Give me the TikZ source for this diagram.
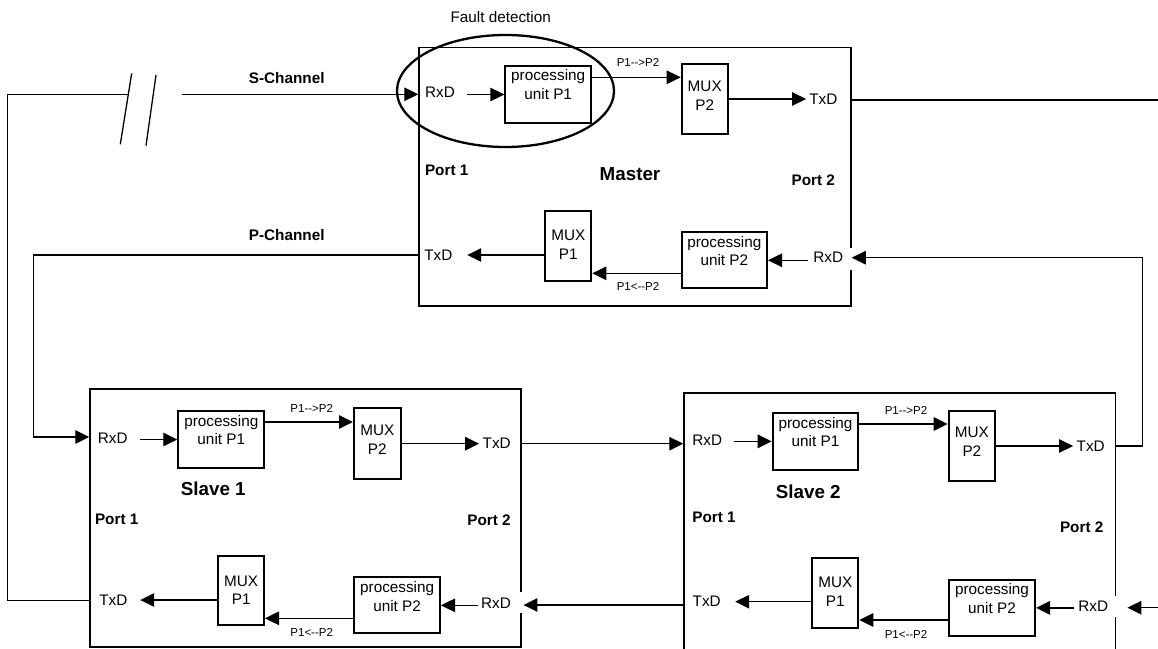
\documentclass[tikz,border=0pt]{standalone}
\usepackage{fontspec}
\setmainfont{Liberation Sans}
\usetikzlibrary{arrows.meta}
\newcommand{\hy}{-\kern0pt}
\tikzset{
  conn/.style={line width=1.3pt},
  arr/.style={conn,-{Triangle[length=14pt,width=13.5pt]}},
  ubox/.style={draw,line width=1.5pt,inner sep=0pt},
  pbox/.style={draw,line width=2pt,inner sep=0pt},
  txt/.style={inner sep=0pt,font=\fontsize{15.3}{18.5}\selectfont,align=center},
  small/.style={inner sep=0pt,font=\fontsize{11.5}{13}\selectfont},
  port/.style={inner sep=0pt,font=\fontsize{15.3}{18}\selectfont\bfseries},
  big/.style={inner sep=0pt,font=\fontsize{18.8}{22}\selectfont\bfseries},
  gap/.style={fill=white,draw=none}
}
\begin{document}
\begin{tikzpicture}[x=1pt,y=-1pt]
\useasboundingbox (0,0) rectangle (1158,648);
\clip (0,0) rectangle (1158,648);

% ---------------- unit boxes ----------------
\node[ubox,minimum width=432pt,minimum height=258.3pt] (M) at (635,176.85) {};
\node[ubox,minimum width=431pt,minimum height=258pt] (S1) at (305.5,518) {};
\node[ubox,minimum width=431.7pt,minimum height=267pt] (S2) at (899.85,526.5) {};

% gaps in the box edges behind the incoming RxD arrows
\fill[gap] (846,248.3) rectangle (856,270);
\fill[gap] (516,591.7) rectangle (526,613.3);
\fill[gap] (1110,596) rectangle (1121,616.7);

% ---------------- Master ----------------
\node[txt] (m_rx1) at (440,92.7) {RxD};
\node[pbox,minimum width=85.7pt,minimum height=57.6pt] (m_pu1) at (548.2,94.5) {};
\node[txt] (m_pu1t) at (548.2,84.3) {processing\\unit P1};
\node[small] (m_l1) at (638,62.7) {P1\hy\hy>P2};
\node[pbox,minimum width=46pt,minimum height=70.3pt] (m_mux2) at (704.7,98.85) {};
\node[txt] (m_mux2t) at (704.7,95.5) {MUX\\P2};
\node[txt] (m_tx1) at (823.3,99) {TxD};
\node[port] (m_p1) at (446.7,170) {Port 1};
\node[big] (m_name) at (630,174) {Master};
\node[port] (m_p2) at (813.3,180) {Port 2};
\node[pbox,minimum width=46pt,minimum height=70pt] (m_mux1) at (568.3,245.7) {};
\node[txt] (m_mux1t) at (568.3,244.8) {MUX\\P1};
\node[txt] (m_tx2) at (438.3,255) {TxD};
\node[pbox,minimum width=85.3pt,minimum height=56pt] (m_pu2) at (724.35,260.3) {};
\node[txt] (m_pu2t) at (724.35,251.2) {processing\\unit P2};
\node[small] (m_l2) at (638,286.7) {P1<\hy\hy P2};
\node[txt] (m_rx2) at (828.3,257.3) {RxD};

\draw[arr] ([xshift=12pt]m_rx1.east |- m_pu1.west) -- (m_pu1.west);
\draw[arr] ([yshift=17.2pt]m_pu1.east) -- ([yshift=17.2pt]m_pu1.east -| m_mux2.west);
\draw[arr] (m_mux2.east |- m_tx1) -- ([xshift=-3pt]m_tx1.west);
\draw[arr] (m_tx2 -| m_mux1.west) -- ([xshift=14.7pt]m_tx2.east);
\draw[arr] ([yshift=-13pt]m_pu2.west) -- ([yshift=-13pt]m_pu2.west -| m_mux1.east);
\draw[arr] ([xshift=-5.7pt]m_rx2.west |- m_pu2.east) -- (m_pu2.east);

% ---------------- Slave 1 ----------------
\node[txt] (s1_rx1) at (112.7,438.3) {RxD};
\node[pbox,minimum width=86pt,minimum height=57.6pt] (s1_pu1) at (221.3,439.5) {};
\node[txt] (s1_pu1t) at (221.3,429.8) {processing\\unit P1};
\node[small] (s1_l1) at (311.7,408) {P1\hy\hy>P2};
\node[pbox,minimum width=46.7pt,minimum height=70.4pt] (s1_mux2) at (377.35,443.5) {};
\node[txt] (s1_mux2t) at (377.35,439.8) {MUX\\P2};
\node[txt] (s1_tx1) at (496.7,443.7) {TxD};
\node[big] (s1_name) at (213.3,489) {Slave 1};
\node[port] (s1_p1) at (116.7,519) {Port 1};
\node[port] (s1_p2) at (489,520) {Port 2};
\node[pbox,minimum width=45.7pt,minimum height=69.3pt] (s1_mux1) at (241.15,590.35) {};
\node[txt] (s1_mux1t) at (241.15,590) {MUX\\P1};
\node[txt] (s1_tx2) at (113.3,600) {TxD};
\node[pbox,minimum width=85.7pt,minimum height=56pt] (s1_pu2) at (397.15,605.3) {};
\node[txt] (s1_pu2t) at (397.15,596.5) {processing\\unit P2};
\node[small] (s1_l2) at (311.7,632) {P1<\hy\hy P2};
\node[txt] (s1_rx2) at (496,603.3) {RxD};

\draw[arr] ([xshift=12.4pt]s1_rx1.east |- s1_pu1.west) -- (s1_pu1.west);
\draw[arr] ([yshift=17.5pt]s1_pu1.east) -- ([yshift=17.5pt]s1_pu1.east -| s1_mux2.west);
\draw[arr] (s1_mux2.east |- s1_tx1) -- ([xshift=-3.4pt]s1_tx1.west);
\draw[arr] (s1_tx2 -| s1_mux1.west) -- ([xshift=12.7pt]s1_tx2.east);
\draw[arr] ([yshift=-13pt]s1_pu2.west) -- ([yshift=-13pt]s1_pu2.west -| s1_mux1.east);
\draw[arr] ([xshift=-2.8pt]s1_rx2.west |- s1_pu2.east) -- (s1_pu2.east);

% ---------------- Slave 2 ----------------
\node[txt] (s2_rx1) at (707.3,440) {RxD};
\node[pbox,minimum width=85.6pt,minimum height=57.3pt] (s2_pu1) at (815.5,441.35) {};
\node[txt] (s2_pu1t) at (815.5,431.8) {processing\\unit P1};
\node[small] (s2_l1) at (906,410) {P1\hy\hy>P2};
\node[pbox,minimum width=46.3pt,minimum height=70pt] (s2_mux2) at (971.85,445.7) {};
\node[txt] (s2_mux2t) at (971.85,441.8) {MUX\\P2};
\node[txt] (s2_tx1) at (1090.7,446) {TxD};
\node[big] (s2_name) at (808.3,491.7) {Slave 2};
\node[port] (s2_p1) at (714,517.7) {Port 1};
\node[port] (s2_p2) at (1081.7,527.7) {Port 2};
\node[pbox,minimum width=46pt,minimum height=70pt] (s2_mux1) at (835.3,592.7) {};
\node[txt] (s2_mux1t) at (835.3,591.7) {MUX\\P1};
\node[txt] (s2_tx2) at (706.7,601.7) {TxD};
\node[pbox,minimum width=86pt,minimum height=55.7pt] (s2_pu2) at (992,607.85) {};
\node[txt] (s2_pu2t) at (992,598.5) {processing\\unit P2};
\node[small] (s2_l2) at (906,634) {P1<\hy\hy P2};
\node[txt] (s2_rx2) at (1093.3,606.7) {RxD};

\draw[arr] ([xshift=11.8pt]s2_rx1.east |- s2_pu1.west) -- (s2_pu1.west);
\draw[arr] ([yshift=17.35pt]s2_pu1.east) -- ([yshift=17.35pt]s2_pu1.east -| s2_mux2.west);
\draw[arr] (s2_mux2.east |- s2_tx1) -- ([xshift=-3.4pt]s2_tx1.west);
\draw[arr] (s2_tx2 -| s2_mux1.west) -- ([xshift=14.3pt]s2_tx2.east);
\draw[arr] ([yshift=-12.15pt]s2_pu2.west) -- ([yshift=-12.15pt]s2_pu2.west -| s2_mux1.east);
\draw[arr] ([xshift=-4.1pt]s2_rx2.west |- s2_pu2.east) -- (s2_pu2.east);

% ---------------- channels between units ----------------
\node[port] (sch) at (286.7,77.7) {S-Channel};
\node[port] (pch) at (286.7,235) {P-Channel};
\coordinate (scL) at (182,94.3);
\coordinate (brk1) at (128.3,94.3);
\coordinate (oTL) at (7.3,94.3);
\coordinate (oBL) at (7.3,600.7);
\coordinate (pcL) at (33.3,255);
\coordinate (s1in) at (33.3,437);
\coordinate (topR) at (1158,100);
\coordinate (rR) at (1142.7,257.7);
\coordinate (brR) at (1158,607.7);
\coordinate (s2out) at (684,605);

% S-Channel into Master RxD
\draw[arr] (scL) -- (scL -| M.west);
% break marks
\draw[conn] (131.7,73.3) -- (120.3,144.3);
\draw[conn] (156,75) -- (146,145.7);
% outer return line from Slave 1 TxD (Port 1)
\draw[conn] (oBL -| S1.west) -- (oBL) -- (oTL) -- (brk1);
% P-Channel: Master TxD Port1 -> Slave 1 RxD
\draw[arr] (m_tx2 -| M.west) -- (pcL) -- (s1in) -- (s1in -| S1.west);
% Master TxD Port2 -> right edge
\draw[conn] (topR -| M.east) -- (topR);
% Slave 1 TxD Port2 -> Slave 2 RxD
\draw[arr] (s1_tx1 -| S1.east) -- (s1_tx1 -| S2.west);
% Slave 2 TxD Port1 -> Slave 1 RxD Port2
\draw[arr] (s2out) -- ([xshift=1.7pt]s2out -| S1.east);
% Slave 2 TxD Port2 -> Master RxD Port2
\draw[arr] (s2_tx1 -| S2.east) -| (rR) -- (rR -| M.east);
% from right edge into Slave 2 RxD Port2
\draw[arr] (brR) -- ([xshift=11pt]brR -| S2.east);

% ---------------- fault detection ----------------
\draw[line width=2.3pt] (505.5,91) ellipse [x radius=108.5, y radius=56];
\node[txt] (fd) at (500.7,17) {Fault detection};
\end{tikzpicture}
\end{document}
